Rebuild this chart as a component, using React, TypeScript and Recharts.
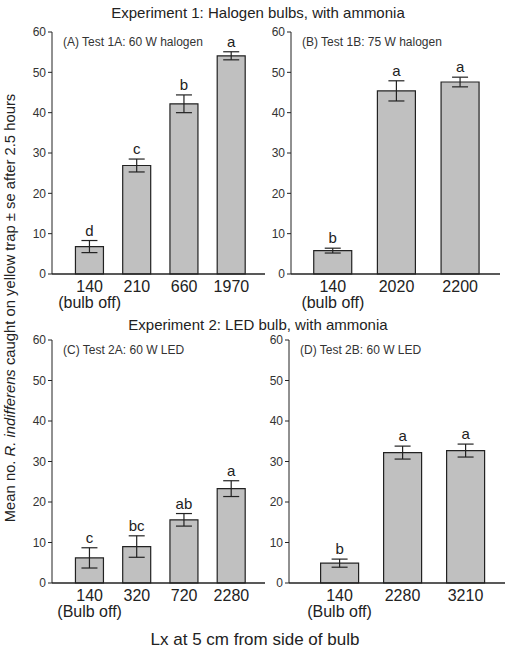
import { BarChart, Bar, XAxis, YAxis, ErrorBar, LabelList } from 'recharts'

const FONT = '"Liberation Sans", Arial, sans-serif'
const NARROW = '"Liberation Sans Narrow", "Liberation Sans", Arial, sans-serif'

// Test 1A: 60 W halogen
const luxA = ['140', '210', '660', '1970']
const noteA = ['(bulb off)', '', '', '']
const meanA = [6.8, 26.9, 42.2, 54.1]
const seA = [1.5, 1.6, 2.2, 1.0]
const letterA = ['d', 'c', 'b', 'a']

// Test 1B: 75 W halogen
const luxB = ['140', '2020', '2200']
const noteB = ['(bulb off)', '', '']
const meanB = [5.8, 45.4, 47.6]
const seB = [0.6, 2.5, 1.2]
const letterB = ['b', 'a', 'a']

// Test 2A: 60 W LED
const luxC = ['140', '320', '720', '2280']
const noteC = ['(Bulb off)', '', '', '']
const meanC = [6.2, 9.0, 15.6, 23.3]
const seC = [2.5, 2.65, 1.55, 1.95]
const letterC = ['c', 'bc', 'ab', 'a']

// Test 2B: 60 W LED
const luxD = ['140', '2280', '3210']
const noteD = ['(Bulb off)', '', '']
const meanD = [4.9, 32.2, 32.7]
const seD = [1.0, 1.6, 1.6]
const letterD = ['b', 'a', 'a']

const yTicks = [0, 10, 20, 30, 40, 50, 60]

type PanelProps = {
  title: string
  lux: string[]
  notes: string[]
  means: number[]
  ses: number[]
  letters: string[]
  left: number
  top: number
  width: number
  height: number
  margin: { top: number; right: number; left: number; bottom: number }
  yWidth: number
  xHeight: number
  pad: { left: number; right: number }
}

function Panel(p: PanelProps) {
  const data = p.lux.map((l, i) => ({ lux: l, note: p.notes[i], mean: p.means[i], err: p.ses[i] }))

  const CatTick = (props: any) => {
    const { x, y, payload, index } = props
    const note = p.notes[index] || ''
    return (
      <text x={x} y={y} textAnchor="middle" fontFamily={FONT} fontSize={16} fill="#222">
        <tspan x={x} dy={10}>{payload.value}</tspan>
        {note && <tspan x={x} dy={16}>{note}</tspan>}
      </text>
    )
  }

  const renderLetter = (props: any) => {
    const { x, y, width, height, index, value } = props
    const perUnit = Number(height) / Number(value)
    const top = Number(y) - p.ses[index] * perUnit
    return (
      <text
        x={Number(x) + Number(width) / 2}
        y={top - 5}
        textAnchor="middle"
        fontFamily={FONT}
        fontSize={15}
        fill="#222"
      >
        {p.letters[index]}
      </text>
    )
  }

  return (
    <div style={{ position: 'absolute', left: p.left, top: p.top }}>
      <BarChart width={p.width} height={p.height} data={data} margin={p.margin} barCategoryGap="20%">
        <XAxis
          dataKey="lux"
          tickLine={false}
          axisLine={{ stroke: '#222', strokeWidth: 1.5 }}
          height={p.xHeight}
          padding={p.pad}
          tick={<CatTick />}
          interval={0}
        />
        <YAxis
          domain={[0, 60]}
          ticks={yTicks}
          width={p.yWidth}
          tickSize={4}
          tickLine={{ stroke: '#222' }}
          axisLine={{ stroke: '#222' }}
          tick={{ fill: '#333', fontSize: 12, fontFamily: FONT }}
        />
        <Bar dataKey="mean" fill="#c0c0c0" stroke="#222" strokeWidth={1.2} isAnimationActive={false}>
          <ErrorBar dataKey="err" width={8} stroke="#222" strokeWidth={1.2} direction="y" />
          <LabelList dataKey="mean" content={renderLetter} />
        </Bar>
      </BarChart>
      <div
        style={{
          position: 'absolute',
          left: p.yWidth + p.margin.left + 11,
          top: p.margin.top + 3,
          fontFamily: NARROW,
          fontSize: 12,
          color: '#333',
          whiteSpace: 'nowrap',
        }}
      >
        {p.title}
      </div>
    </div>
  )
}

export default function App() {
  return (
    <div
      style={{
        position: 'absolute',
        left: 0,
        top: 0,
        width: 510,
        height: 649,
        background: '#fff',
        fontFamily: FONT,
        overflow: 'hidden',
      }}
    >
      <Panel
        title="(A) Test 1A: 60 W halogen"
        lux={luxA}
        notes={noteA}
        means={meanA}
        ses={seA}
        letters={letterA}
        left={0}
        top={0}
        width={270}
        height={320}
        margin={{ top: 32, right: 5, left: 0, bottom: 0 }}
        yWidth={52}
        xHeight={46}
        pad={{ left: 14, right: 10 }}
      />
      <Panel
        title="(B) Test 1B: 75 W halogen"
        lux={luxB}
        notes={noteB}
        means={meanB}
        ses={seB}
        letters={letterB}
        left={250}
        top={0}
        width={260}
        height={320}
        margin={{ top: 32, right: 10, left: 0, bottom: 0 }}
        yWidth={41}
        xHeight={46}
        pad={{ left: 10, right: 8 }}
      />
      <Panel
        title="(C) Test 2A: 60 W LED"
        lux={luxC}
        notes={noteC}
        means={meanC}
        ses={seC}
        letters={letterC}
        left={0}
        top={300}
        width={270}
        height={330}
        margin={{ top: 40, right: 5, left: 0, bottom: 0 }}
        yWidth={52}
        xHeight={47}
        pad={{ left: 14, right: 10 }}
      />
      <Panel
        title="(D) Test 2B: 60 W LED"
        lux={luxD}
        notes={noteD}
        means={meanD}
        ses={seD}
        letters={letterD}
        left={250}
        top={300}
        width={260}
        height={330}
        margin={{ top: 40, right: 5, left: 0, bottom: 0 }}
        yWidth={39}
        xHeight={47}
        pad={{ left: 19, right: 8 }}
      />
      <svg width={510} height={649} style={{ position: 'absolute', left: 0, top: 0, pointerEvents: 'none' }}>
        <text x={258} y={18} textAnchor="middle" fontFamily={FONT} fontSize={15} fill="#222">
          Experiment 1: Halogen bulbs, with ammonia
        </text>
        <text x={258} y={330} textAnchor="middle" fontFamily={FONT} fontSize={15} fill="#222">
          Experiment 2: LED bulb, with ammonia
        </text>
        <text
          x={0}
          y={0}
          transform="translate(15, 308) rotate(-90)"
          textAnchor="middle"
          fontFamily={FONT}
          fontSize={14.8}
          fill="#222"
        >
          Mean no. <tspan fontStyle="italic">R. indifferens</tspan> caught on yellow trap ± se after 2.5 hours
        </text>
        <text x={255} y={645} textAnchor="middle" fontFamily={FONT} fontSize={17} fill="#222">
          Lx at 5 cm from side of bulb
        </text>
      </svg>
    </div>
  )
}
